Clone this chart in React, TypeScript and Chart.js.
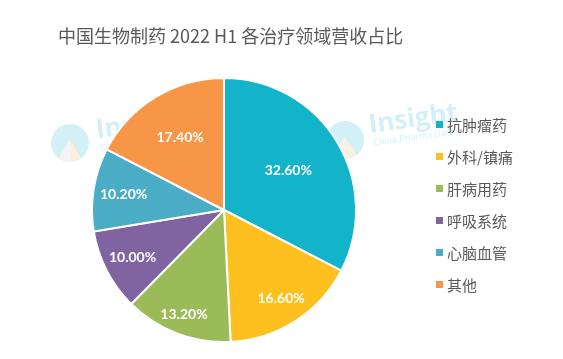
import React, { useEffect, useRef } from "react";
import { Chart, registerables } from "chart.js";

Chart.register(...registerables);

const titleText = "中国生物制药 2022 H1 各治疗领域营收占比";
const categories = ["抗肿瘤药", "外科/镇痛", "肝病用药", "呼吸系统", "心脑血管", "其他"];
const shares = [32.6, 16.6, 13.2, 10.0, 10.2, 17.4];
const colors = ["#13B3C9", "#FEC01E", "#9BBB59", "#8064A2", "#4BACC6", "#F79646"];
const labelRadius = [0.57, 0.8, 0.85, 0.78, 0.77, 0.64];

const decorPlugin = {
  id: "decor",
  beforeDatasetsDraw(chart: any) {
    const ctx = chart.ctx;
    ctx.save();
    // watermarks
    const marks = [
      { cx: 70, cy: 143, tx: 97, ty: 138, rot: -0.12 },
      { cx: 345, cy: 140, tx: 370, ty: 133, rot: -0.14 },
    ];
    for (const m of marks) {
      ctx.fillStyle = "#D3F0F6";
      ctx.beginPath();
      ctx.arc(m.cx, m.cy, 19, 0, Math.PI * 2);
      ctx.fill();
      ctx.fillStyle = "#F3F3F3";
      ctx.beginPath();
      ctx.moveTo(m.cx, m.cy - 4);
      ctx.lineTo(m.cx - 12, m.cy + 16);
      ctx.lineTo(m.cx + 2, m.cy + 19);
      ctx.closePath();
      ctx.fill();
      ctx.fillStyle = "#FCF0D8";
      ctx.beginPath();
      ctx.moveTo(m.cx, m.cy - 4);
      ctx.lineTo(m.cx + 2, m.cy + 19);
      ctx.lineTo(m.cx + 11, m.cy + 15);
      ctx.closePath();
      ctx.fill();
      ctx.save();
      ctx.translate(m.tx, m.ty);
      ctx.rotate(m.rot);
      ctx.fillStyle = "#D3F0F6";
      ctx.font = "bold 26px 'Open Sans'";
      ctx.textBaseline = "alphabetic";
      ctx.textAlign = "left";
      ctx.fillText("Insight", 0, 0);
      ctx.font = "9px 'Open Sans'";
      ctx.fillText("China Pharma Data", 2, 13);
      ctx.restore();
    }
    ctx.restore();
  },
  afterDraw(chart: any) {
    const ctx = chart.ctx;
    ctx.save();
    // title
    ctx.fillStyle = "#595959";
    ctx.font = "18px 'Noto Sans CJK SC'";
    ctx.textBaseline = "middle";
    ctx.textAlign = "left";
    ctx.fillText(titleText, 58, 36);
    // legend
    const labels = chart.data.labels as string[];
    const bg = chart.data.datasets[0].backgroundColor as string[];
    ctx.font = "15px 'Noto Sans CJK SC'";
    labels.forEach((l, i) => {
      const y = 125 + i * 32;
      ctx.fillStyle = bg[i];
      ctx.fillRect(436, y - 4, 7, 7);
      ctx.fillStyle = "#595959";
      ctx.fillText(l, 447, y);
    });
    // slice labels
    const meta = chart.getDatasetMeta(0);
    ctx.fillStyle = "#FFFFFF";
    ctx.font = "bold 14px Lato";
    ctx.textAlign = "center";
    meta.data.forEach((arc: any, i: number) => {
      const p = arc.getProps(["x", "y", "startAngle", "endAngle", "outerRadius"], true);
      const mid = (p.startAngle + p.endAngle) / 2;
      const r = p.outerRadius * labelRadius[i];
      const v = chart.data.datasets[0].data[i] as number;
      ctx.fillText(v.toFixed(2) + "%", p.x + Math.cos(mid) * r, p.y + Math.sin(mid) * r);
    });
    ctx.restore();
  },
};

export default function App() {
  const ref = useRef<HTMLCanvasElement>(null);
  useEffect(() => {
    document.body.style.margin = "0";
    const chart = new Chart(ref.current!, {
      type: "pie",
      data: {
        labels: categories,
        datasets: [
          {
            data: shares,
            backgroundColor: colors,
            borderColor: "#FFFFFF",
            borderWidth: 2,
          },
        ],
      },
      options: {
        responsive: false,
        animation: false,
        layout: { padding: { top: 77, bottom: 16, left: 91, right: 206 } },
        plugins: {
          legend: { display: false },
          title: { display: false },
          tooltip: { enabled: false },
        },
      },
      plugins: [decorPlugin],
    });
    return () => chart.destroy();
  }, []);
  return (
    <div style={{ width: 563, height: 359, background: "#fff" }}>
      <canvas ref={ref} width={563} height={359} style={{ width: 563, height: 359, display: "block" }} />
    </div>
  );
}
